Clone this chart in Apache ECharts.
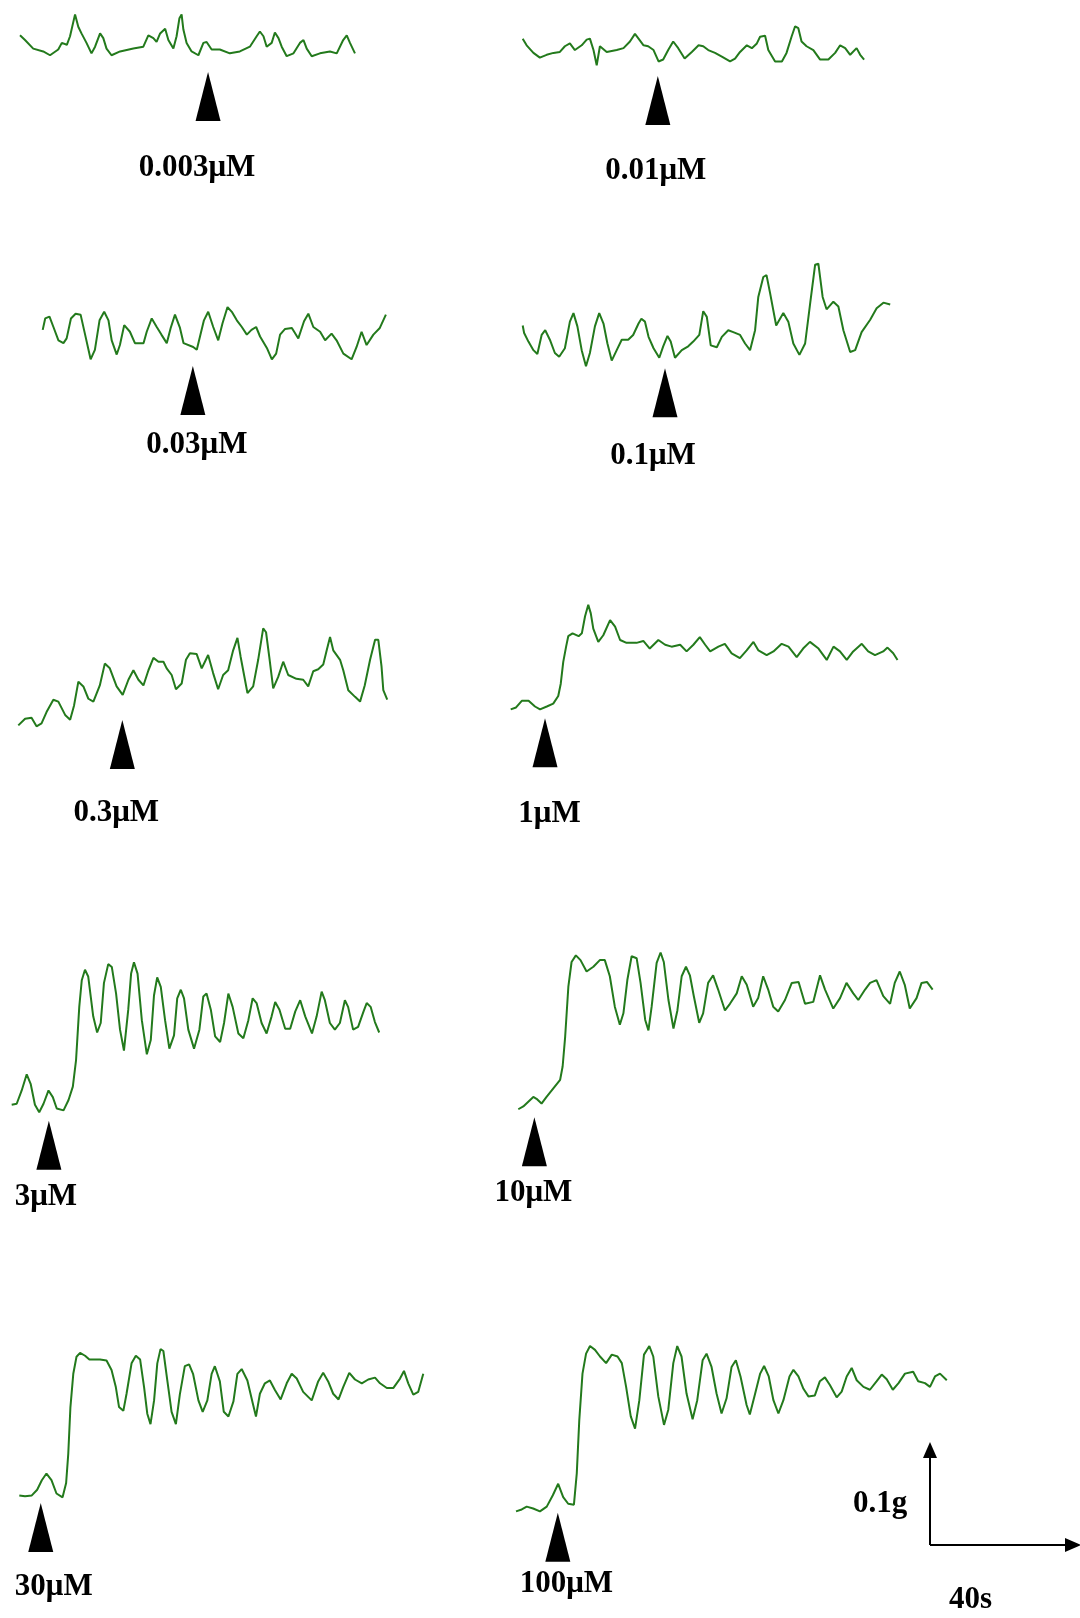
<!DOCTYPE html>
<html><head><meta charset="utf-8">
<script src="https://cdn.jsdelivr.net/npm/echarts@6/dist/echarts.min.js"></script>
<style>html,body{margin:0;padding:0;background:#fff}#c{width:1080px;height:1618px}</style>
</head><body><div id="c"></div>
<script>
// ---------- DATA (time in s, tension in mg above panel reference) ----------
const doses = ['0.003μM','0.01μM','0.03μM','0.1μM','0.3μM','1μM','3μM','10μM','30μM','100μM'];

const trace_0_003 = [[0,26],[1.4,21],[3.7,12],[6.5,9],[8.4,5],[10.7,11],[11.7,18],[13.1,16],[14.0,25],[15.4,48],[16.3,35],[17.2,28],[18.6,18],[20.0,7],[21.0,14],[22.4,28],[23.3,23],[24.2,12],[25.6,5],[28.0,9],[31.7,12],[34.5,14],[35.9,26],[37.3,23],[38.2,19],[39.2,28],[40.6,33],[41.5,21],[42.9,12],[43.8,25],[44.6,44],[45.2,48],[45.7,32],[46.6,18],[48.0,9],[49.9,5],[51.3,18],[52.2,19],[53.6,11],[55.9,11],[58.7,7],[61.5,9],[64.3,14],[66.2,25],[67.1,30],[68.1,25],[69.0,14],[70.4,18],[71.3,29],[72.3,23],[73.2,14],[74.6,4],[76.5,7],[78.3,18],[79.3,21],[80.2,12],[81.6,4],[83.9,7],[86.7,9],[88.6,7],[90.4,21],[91.4,26],[92.3,18],[93.7,7]];

const trace_0_01 = [[0,33],[1.1,26],[3.0,18],[4.8,13],[6.7,16],[8.6,18],[10.4,19],[11.8,25],[13.2,28],[14.6,21],[16.5,26],[17.9,32],[18.8,33],[19.8,21],[20.7,5],[21.6,25],[23.5,19],[26.3,21],[28.2,23],[30.0,30],[31.4,38],[32.4,33],[33.8,26],[35.1,25],[36.6,21],[38.0,9],[39.3,11],[40.7,21],[42.1,30],[43.5,23],[45.3,12],[47.3,19],[49.2,26],[50.5,25],[51.9,21],[53.8,18],[55.7,14],[58.0,9],[59.4,12],[60.8,19],[62.7,26],[64.1,23],[65.5,28],[66.4,35],[67.8,36],[68.7,21],[70.6,9],[72.5,9],[73.8,18],[75.2,35],[76.2,46],[77.1,44],[78.0,30],[79.4,25],[81.3,21],[83.2,11],[85.5,11],[87.4,18],[88.8,26],[90.2,23],[91.6,16],[93.4,23],[94.4,16],[95.5,11]];

const trace_0_03 = [[0,37],[0.7,49],[1.9,51],[3.0,40],[4.4,26],[5.8,23],[6.7,28],[7.9,49],[9.2,54],[10.6,53],[11.8,33],[13.4,6],[14.6,16],[15.9,47],[17.2,56],[18.4,47],[19.3,26],[20.7,11],[21.6,21],[22.8,42],[24.4,35],[25.8,23],[28.2,23],[29.1,35],[30.5,49],[31.9,40],[33.2,32],[34.7,23],[35.8,39],[37.0,53],[38.4,39],[39.4,23],[42.1,19],[43.1,16],[44.0,30],[45.1,47],[46.3,56],[47.7,40],[49.1,26],[50.3,44],[51.7,61],[52.9,56],[54.3,47],[55.7,40],[57.1,32],[58.4,37],[59.7,40],[60.8,30],[62.7,18],[64.1,6],[65.3,12],[66.4,32],[67.8,38],[69.7,39],[71.5,28],[73.1,46],[74.3,54],[75.7,40],[77.6,35],[79.0,26],[80.8,33],[82.2,26],[84.1,12],[86.4,6],[87.8,19],[89.2,35],[90.6,21],[92.5,32],[94.3,39],[96.0,53]];

const trace_0_1 = [[0,49],[0.4,41],[1.6,32],[3.0,23],[4.1,19],[5.3,39],[6.3,44],[7.6,34],[9.0,20],[10.2,16],[11.8,25],[13.2,53],[14.2,62],[15.3,48],[16.5,23],[17.7,6],[18.8,20],[20.2,48],[21.4,62],[22.6,51],[23.7,30],[24.9,12],[26.3,23],[27.7,34],[29.5,34],[30.9,39],[32.4,51],[33.2,56],[34.2,53],[35.2,37],[36.6,25],[38.2,15],[39.3,27],[40.5,38],[41.4,32],[42.6,15],[44.5,23],[46.3,27],[47.7,32],[49.4,39],[50.5,64],[51.5,58],[52.6,28],[54.3,26],[55.7,37],[57.5,44],[58.9,42],[60.8,39],[62.2,30],[63.6,23],[65.0,44],[65.9,79],[67.3,100],[68.2,102],[69.2,83],[70.9,49],[72.9,62],[74.3,53],[75.7,30],[77.4,18],[79.0,30],[80.4,72],[81.8,113],[82.7,114],[83.9,79],[85.0,66],[86.9,74],[88.3,69],[89.7,44],[91.6,21],[93.0,23],[94.8,42],[97.2,55],[99.0,67],[100.9,73],[102.8,71]];

const trace_0_3 = [[0,7],[1.9,14],[3.7,15],[5.1,6],[6.5,9],[7.9,21],[9.8,34],[11.2,32],[13.1,18],[14.5,13],[15.6,28],[16.8,53],[18.2,48],[19.6,35],[21.0,32],[22.8,49],[24.2,72],[25.6,67],[27.5,48],[29.2,39],[30.8,55],[32.2,65],[33.6,55],[35.0,49],[36.4,65],[37.8,78],[39.2,74],[40.6,74],[41.5,67],[42.9,60],[44.1,45],[45.7,51],[46.9,76],[48.0,83],[49.9,82],[51.3,67],[52.2,74],[53.1,81],[54.5,62],[55.9,45],[57.3,60],[58.7,65],[60.1,86],[61.3,99],[62.2,79],[64.1,41],[65.7,48],[67.1,76],[68.5,109],[69.3,105],[70.2,79],[71.3,46],[72.7,58],[74.1,74],[75.5,60],[77.8,56],[79.7,55],[81.1,48],[82.5,64],[83.9,66],[85.3,71],[86.2,85],[87.2,100],[88.1,86],[90.0,76],[90.9,65],[92.3,44],[94.2,37],[95.6,32],[96.9,49],[98.4,76],[99.8,97],[100.7,97],[101.6,69],[102.1,44],[103.2,34]];

const trace_1 = [[0,7],[1.5,9],[3.1,16],[5.0,16],[6.8,10],[8.2,7],[10.1,10],[11.9,13],[13.3,21],[14.0,34],[14.7,57],[15.5,73],[16.1,84],[17.3,87],[19.0,84],[19.9,87],[20.8,105],[21.7,117],[22.4,108],[23.1,92],[24.5,78],[25.9,85],[27.8,101],[29.2,94],[30.6,80],[32.4,77],[35.2,77],[37.1,79],[38.9,71],[41.3,80],[43.2,75],[45.0,73],[47.4,75],[49.2,68],[51.1,75],[52.9,83],[54.4,75],[55.8,68],[58.1,73],[59.9,76],[61.8,66],[64.1,61],[66.0,69],[67.9,78],[69.3,69],[71.6,64],[73.5,68],[75.8,76],[77.7,73],[80.0,62],[81.8,71],[83.7,78],[86.1,71],[88.4,59],[90.3,73],[92.1,68],[94.0,59],[95.8,68],[98.2,76],[100.0,68],[101.9,64],[104.2,68],[105.4,72],[107.0,66],[108.2,59]];

const trace_3 = [[0,14],[1.4,15],[2.8,29],[4.2,46],[5.3,36],[6.5,14],[7.7,6],[8.9,15],[10.3,29],[11.5,22],[12.6,10],[14.5,8],[15.9,19],[17.1,33],[18.0,61],[18.9,117],[19.6,145],[20.5,156],[21.4,149],[22.8,107],[23.9,90],[24.9,100],[25.8,142],[27.0,162],[28.0,159],[29.2,131],[30.3,93],[31.4,71],[32.6,114],[33.4,152],[34.2,164],[35.2,152],[36.4,103],[37.8,67],[38.9,82],[39.8,129],[40.7,148],[41.7,138],[42.9,103],[44.1,73],[45.4,87],[46.3,126],[47.3,135],[48.2,126],[49.4,93],[51.0,73],[52.5,93],[53.6,128],[54.5,131],[55.7,114],[56.9,86],[58.3,80],[59.4,100],[60.6,131],[61.8,117],[63.4,89],[64.8,84],[66.2,103],[67.4,126],[68.5,121],[69.9,100],[71.3,89],[72.7,107],[73.7,122],[74.9,114],[76.5,94],[77.9,94],[79.3,112],[80.7,124],[82.1,107],[84.0,89],[85.3,107],[86.7,133],[87.6,124],[89.0,100],[90.4,93],[91.8,100],[93.2,124],[94.1,117],[95.5,93],[96.9,96],[98.4,112],[99.3,121],[100.4,117],[101.6,101],[102.8,90]];

const trace_10 = [[0,5],[1.4,8],[2.8,13],[4.2,18],[5.1,16],[6.5,11],[7.9,18],[9.8,27],[11.7,36],[12.4,50],[13.1,81],[14.0,134],[14.9,160],[16.1,167],[17.4,162],[19.1,150],[21.0,155],[22.8,162],[24.2,162],[25.6,145],[27.0,113],[28.4,94],[29.4,106],[30.5,141],[31.7,166],[33.1,164],[34.2,138],[35.5,99],[36.4,88],[37.3,113],[38.7,159],[39.8,170],[40.7,160],[42.0,120],[43.4,90],[44.5,109],[45.7,145],[46.9,155],[48.0,146],[49.1,124],[50.6,96],[51.7,106],[53.1,138],[54.5,146],[55.9,131],[57.8,109],[59.2,116],[61.1,127],[62.5,145],[63.9,136],[65.7,113],[67.1,122],[68.5,145],[69.9,131],[71.3,113],[72.7,108],[74.6,120],[76.5,138],[78.4,139],[80.2,116],[82.5,118],[84.4,146],[85.8,131],[88.1,111],[90.0,122],[91.8,138],[93.7,127],[95.1,120],[97.0,131],[98.4,138],[100.2,141],[102.1,124],[104.0,116],[105.3,138],[106.7,150],[108.1,136],[109.5,111],[111.4,122],[112.8,138],[114.3,139],[115.9,131]];

const trace_30 = [[0,8],[1.6,7],[3.5,8],[5.0,14],[6.3,24],[7.6,31],[9.0,24],[10.4,10],[12.1,6],[13.1,21],[13.7,52],[14.3,101],[15.1,136],[16.0,154],[17.0,158],[18.4,155],[19.6,151],[21.2,151],[22.6,151],[24.4,150],[25.8,140],[27.0,122],[27.9,101],[29.1,97],[30.0,115],[31.4,147],[32.6,155],[33.8,151],[34.9,122],[35.8,94],[36.7,83],[37.7,108],[38.6,147],[39.5,162],[40.3,160],[41.4,129],[42.6,96],[43.8,83],[44.9,114],[46.3,144],[47.5,146],[48.6,136],[50.1,108],[51.3,96],[52.6,108],[53.8,136],[54.7,144],[56.1,128],[57.2,96],[58.5,91],[59.9,107],[61.0,136],[62.2,141],[63.8,129],[65.3,105],[66.2,91],[67.3,115],[68.7,126],[70.1,129],[71.5,119],[73.1,109],[74.8,126],[76.2,136],[77.6,131],[79.4,117],[81.8,108],[83.6,128],[85.0,137],[86.4,128],[87.8,115],[89.3,109],[90.6,122],[92.3,137],[93.9,130],[95.8,126],[97.6,130],[99.5,132],[100.9,126],[102.8,121],[104.6,121],[106.5,131],[107.6,139],[108.8,126],[110.2,114],[111.6,117],[113.0,136]];

const trace_100 = [[0,7],[1.6,9],[3.0,12],[4.8,10],[6.7,7],[8.6,12],[10.3,24],[11.8,36],[13.2,22],[14.6,15],[16.2,14],[17.0,47],[17.7,103],[18.6,152],[19.6,173],[20.7,181],[22.1,177],[23.5,170],[25.2,163],[26.8,172],[28.4,170],[29.6,163],[30.8,138],[32.1,107],[33.3,94],[34.5,124],[35.8,172],[37.3,181],[38.4,170],[39.8,128],[41.4,98],[42.6,114],[44.0,163],[45.1,181],[46.3,170],[47.7,131],[49.4,104],[50.7,124],[52.2,166],[53.3,173],[54.7,159],[56.1,131],[57.5,110],[58.9,126],[60.3,159],[61.5,166],[62.8,149],[64.5,119],[65.4,109],[66.9,131],[68.3,152],[69.4,160],[70.7,149],[72.0,124],[73.4,110],[74.8,124],[76.5,149],[77.6,156],[79.0,149],[80.4,136],[81.8,128],[83.6,129],[85.0,144],[86.4,148],[87.8,140],[89.7,127],[91.1,133],[92.5,149],[93.9,158],[95.3,145],[97.2,138],[99.0,135],[100.9,144],[102.3,151],[103.7,146],[105.4,135],[107.0,142],[108.8,152],[111.1,154],[112.5,144],[114.4,142],[115.8,138],[117.2,149],[118.6,152],[120.5,145]];

const traces = [trace_0_003, trace_0_01, trace_0_03, trace_0_1, trace_0_3, trace_1, trace_3, trace_10, trace_30, trace_100];

// drug addition time (s) and tension level (mg) at the arrow tip
const additionTime = [52.6, 37.8, 42.0, 39.8, 29.1, 9.6, 10.4, 4.5, 6.0, 11.7];
const arrowTipTension = [-12.6, -6.3, -1, 4, 12.6, -2.4, -2.8, -3.5, 0, 5.6];

// calibration bar
const scaleBarTime = 40;      // s
const scaleBarTension = 100;  // mg (0.1 g)
const scaleBarLabels = ['0.1g', '40s'];

// ---------- LAYOUT ----------
const PX_PER_S = 143 / 40;
const PX_PER_MG = 0.95;
const T_MAX = 125;
const panelLayout = [
  {left: 20,    bottom: 60,   dist: 32, dx: -11},
  {left: 522.7, bottom: 70,   dist: 30, dx: -2},
  {left: 42.7,  bottom: 365,  dist: 15, dx: 4},
  {left: 522.7, bottom: 372,  dist: 23, dx: -12},
  {left: 18.3,  bottom: 732,  dist: 28, dx: -6},
  {left: 510.7, bottom: 716,  dist: 31, dx: 4.5},
  {left: 11.7,  bottom: 1118, dist: 12, dx: -3},
  {left: 518.3, bottom: 1114, dist: 11, dx: -1},
  {left: 19.3,  bottom: 1503, dist: 19, dx: 13},
  {left: 516,   bottom: 1518, dist: 7,  dx: 8.6}
];
const scaleLayout = {left: 930, bottom: 1545};
const TRACE_COLOR = '#237a1c';
const FONT = "'Liberation Serif','Times New Roman',serif";

const grid = [], xAxis = [], yAxis = [], series = [];
traces.forEach((tr, i) => {
  const L = panelLayout[i];
  const yMax = Math.ceil(Math.max(...tr.map(p => p[1]))) + 5;
  const h = yMax * PX_PER_MG;
  grid.push({left: L.left, top: L.bottom - h, width: T_MAX * PX_PER_S, height: h, containLabel: false, outerBoundsMode: 'none'});
  xAxis.push({type: 'value', gridIndex: i, min: 0, max: T_MAX, show: false});
  yAxis.push({type: 'value', gridIndex: i, min: 0, max: yMax, show: false});
  series.push({
    type: 'line', xAxisIndex: i, yAxisIndex: i, data: tr, showSymbol: false, clip: false,
    lineStyle: {color: TRACE_COLOR, width: 2}, animation: false, silent: true
  });
  series.push({
    type: 'scatter', xAxisIndex: i, yAxisIndex: i, clip: false, animation: false, silent: true,
    data: [[additionTime[i], arrowTipTension[i]]],
    symbol: 'triangle', symbolSize: [25, 49], symbolOffset: [0, 24.5],
    itemStyle: {color: '#000', opacity: 1},
    label: {show: true, position: 'bottom', distance: L.dist, offset: [L.dx, 0],
      formatter: doses[i], color: '#000', opacity: 1, fontFamily: FONT, fontWeight: 'bold', fontSize: 31}
  });
});

// calibration bar grid
const si = traces.length;
grid.push({left: scaleLayout.left, top: scaleLayout.bottom - scaleBarTension * PX_PER_MG,
  width: scaleBarTime * PX_PER_S, height: scaleBarTension * PX_PER_MG, outerBoundsMode: 'none'});
xAxis.push({type: 'value', gridIndex: si, min: 0, max: scaleBarTime, show: false});
yAxis.push({type: 'value', gridIndex: si, min: 0, max: scaleBarTension, show: false});
series.push({
  type: 'line', xAxisIndex: si, yAxisIndex: si, data: [[0, 0]], showSymbol: false, silent: true, animation: false,
  lineStyle: {width: 0},
  markLine: {
    silent: true, animation: false, symbol: ['none', 'triangle'], symbolSize: [14, 16],
    lineStyle: {color: '#000', width: 2, type: 'solid', opacity: 1},
    itemStyle: {color: '#000', opacity: 1},
    label: {show: false},
    data: [
      [{coord: [0, 0]}, {coord: [0, scaleBarTension]}],
      [{coord: [0, 0]}, {coord: [scaleBarTime, 0]}]
    ]
  }
});

const chart = echarts.init(document.getElementById('c'), null, {renderer: 'canvas'});
chart.setOption({
  backgroundColor: '#fff',
  animation: false,
  grid, xAxis, yAxis, series,
  graphic: [
    {type: 'text', left: 853, top: 1488, style: {text: scaleBarLabels[0], font: "bold 31px " + FONT, fill: '#000'}},
    {type: 'text', left: 949, top: 1584, style: {text: scaleBarLabels[1], font: "bold 31px " + FONT, fill: '#000'}}
  ]
});
</script></body></html>
